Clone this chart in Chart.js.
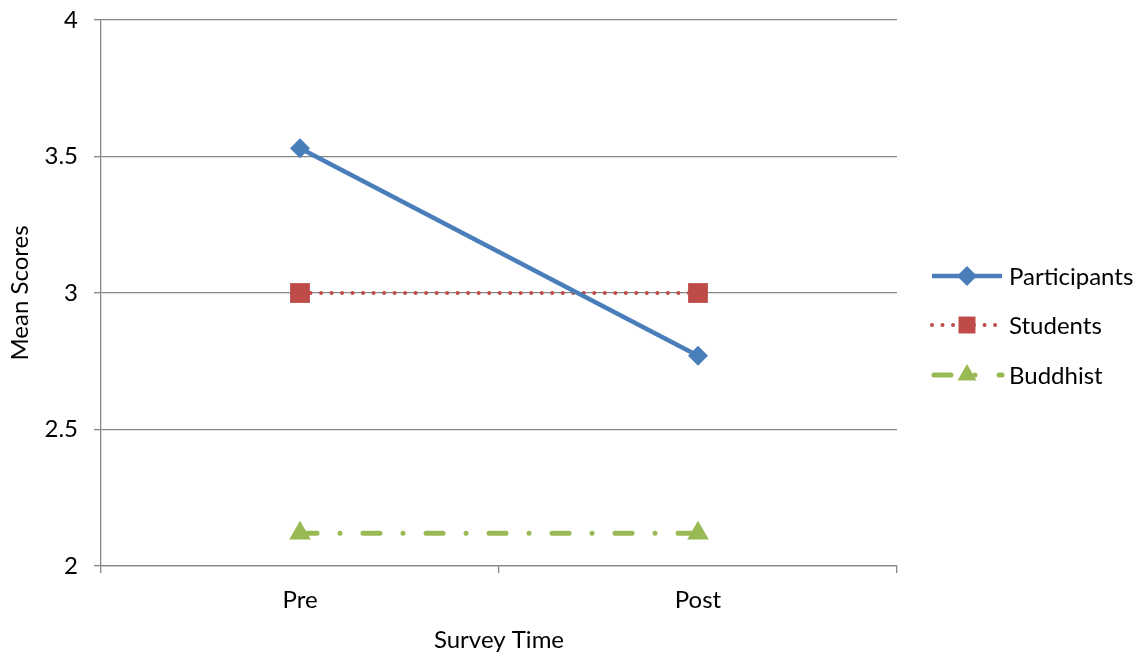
<!DOCTYPE html>
<html>
<head>
<meta charset="utf-8">
<script src="https://cdn.jsdelivr.net/npm/chart.js@4.4.1/dist/chart.umd.min.js"></script>
<style>
  html, body { margin: 0; padding: 0; background: #fff; }
  #wrap { width: 1146px; height: 655px; position: relative; }
</style>
</head>
<body>
<div id="wrap"><canvas id="meanChart"></canvas></div>
<script>
// chart data
const surveyTimes = ['Pre', 'Post'];
const participants = [3.53, 2.77];
const students = [3.0, 3.0];
const buddhist = [2.12, 2.12];
const yTicks = [2, 2.5, 3, 3.5, 4];

const FONT = 'Lato, "Open Sans", sans-serif';
const FSIZE = 24;
const GRID = '#868686';

// legend drawn on the canvas so the line styles match the series
const sideLegend = {
  id: 'sideLegend',
  afterDraw(chart) {
    const ctx = chart.ctx;
    const x0 = 932, x1 = 1002, tx = 1009;
    const rows = [276, 325, 375];
    chart.data.datasets.forEach((ds, i) => {
      const y = rows[i];
      ctx.save();
      ctx.strokeStyle = ds.borderColor;
      ctx.lineWidth = ds.borderWidth;
      ctx.lineCap = ds.borderCapStyle || 'butt';
      ctx.setLineDash(ds.legendDash || ds.borderDash || []);
      ctx.lineDashOffset = ds.legendDashOffset || 0;
      ctx.beginPath();
      ctx.moveTo(x0, y);
      ctx.lineTo(x1, y);
      ctx.stroke();
      ctx.setLineDash([]);
      ctx.fillStyle = ds.pointBackgroundColor;
      ctx.strokeStyle = ds.pointBorderColor;
      Chart.helpers.drawPoint(ctx, {
        pointStyle: ds.pointStyle,
        radius: ds.legendRadius || ds.pointRadius,
        rotation: 0,
        borderWidth: 0
      }, (x0 + x1) / 2, y);
      ctx.fillStyle = '#000';
      ctx.font = FSIZE + 'px ' + FONT;
      ctx.textBaseline = 'middle';
      ctx.textAlign = 'left';
      ctx.fillText(ds.label, tx, y + 1);
      ctx.restore();
    });
  }
};

new Chart(document.getElementById('meanChart'), {
  type: 'line',
  data: {
    labels: surveyTimes,
    datasets: [
      {
        label: 'Participants',
        data: participants,
        borderColor: '#4A7EBB',
        borderWidth: 4.5,
        pointStyle: 'rectRot',
        pointRadius: 10,
        pointBackgroundColor: '#4A7EBB',
        pointBorderColor: '#4A7EBB',
        pointBorderWidth: 0,
        legendRadius: 10
      },
      {
        label: 'Students',
        data: students,
        borderColor: '#BE4B48',
        borderWidth: 4,
        borderDash: [0.01, 10.5],
        borderCapStyle: 'round',
        pointStyle: 'rect',
        pointRadius: 14,
        pointBackgroundColor: '#BE4B48',
        pointBorderColor: '#BE4B48',
        pointBorderWidth: 0,
        legendRadius: 12
      },
      {
        label: 'Buddhist',
        data: buddhist,
        borderColor: '#98B954',
        borderWidth: 5,
        borderDash: [17, 23, 0.01, 23],
        borderCapStyle: 'round',
        pointStyle: 'triangle',
        pointRadius: 12.5,
        pointBackgroundColor: '#98B954',
        pointBorderColor: '#98B954',
        pointBorderWidth: 0,
        legendRadius: 11,
        legendDash: [17, 24, 0.01, 24],
        legendDashOffset: -2
      }
    ]
  },
  options: {
    responsive: true,
    maintainAspectRatio: false,
    animation: false,
    layout: { padding: { top: 20, right: 249, left: 0, bottom: 0 } },
    plugins: {
      legend: { display: false },
      tooltip: { enabled: false }
    },
    elements: { line: { tension: 0 } },
    scales: {
      x: {
        offset: true,
        afterFit: s => { s.height = 89; s.paddingLeft = 0; s.paddingRight = 0; },
        grid: {
          offset: true,
          drawOnChartArea: false,
          drawTicks: true,
          tickLength: 7,
          color: GRID,
          lineWidth: 1.3
        },
        border: { color: GRID, width: 1.3 },
        ticks: { color: '#000', font: { family: FONT, size: FSIZE }, padding: 13 },
        title: {
          display: true,
          text: 'Survey Time',
          color: '#000',
          font: { family: FONT, size: FSIZE },
          padding: { top: 12, bottom: 0 }
        }
      },
      y: {
        min: 2,
        max: 4,
        afterFit: s => { s.width = 101; s.paddingTop = 0; s.paddingBottom = 0; },
        afterBuildTicks: s => { s.ticks = yTicks.map(v => ({ value: v })); },
        grid: {
          drawTicks: true,
          tickLength: 7,
          color: GRID,
          lineWidth: 1.3
        },
        border: { color: GRID, width: 1.3 },
        ticks: {
          color: '#000',
          font: { family: FONT, size: FSIZE },
          padding: 16,
          callback: v => String(v)
        },
        title: {
          display: true,
          text: 'Mean Scores',
          color: '#000',
          font: { family: FONT, size: FSIZE },
          padding: { top: 6, bottom: 0 }
        }
      }
    }
  },
  plugins: [sideLegend]
});
</script>
</body>
</html>
